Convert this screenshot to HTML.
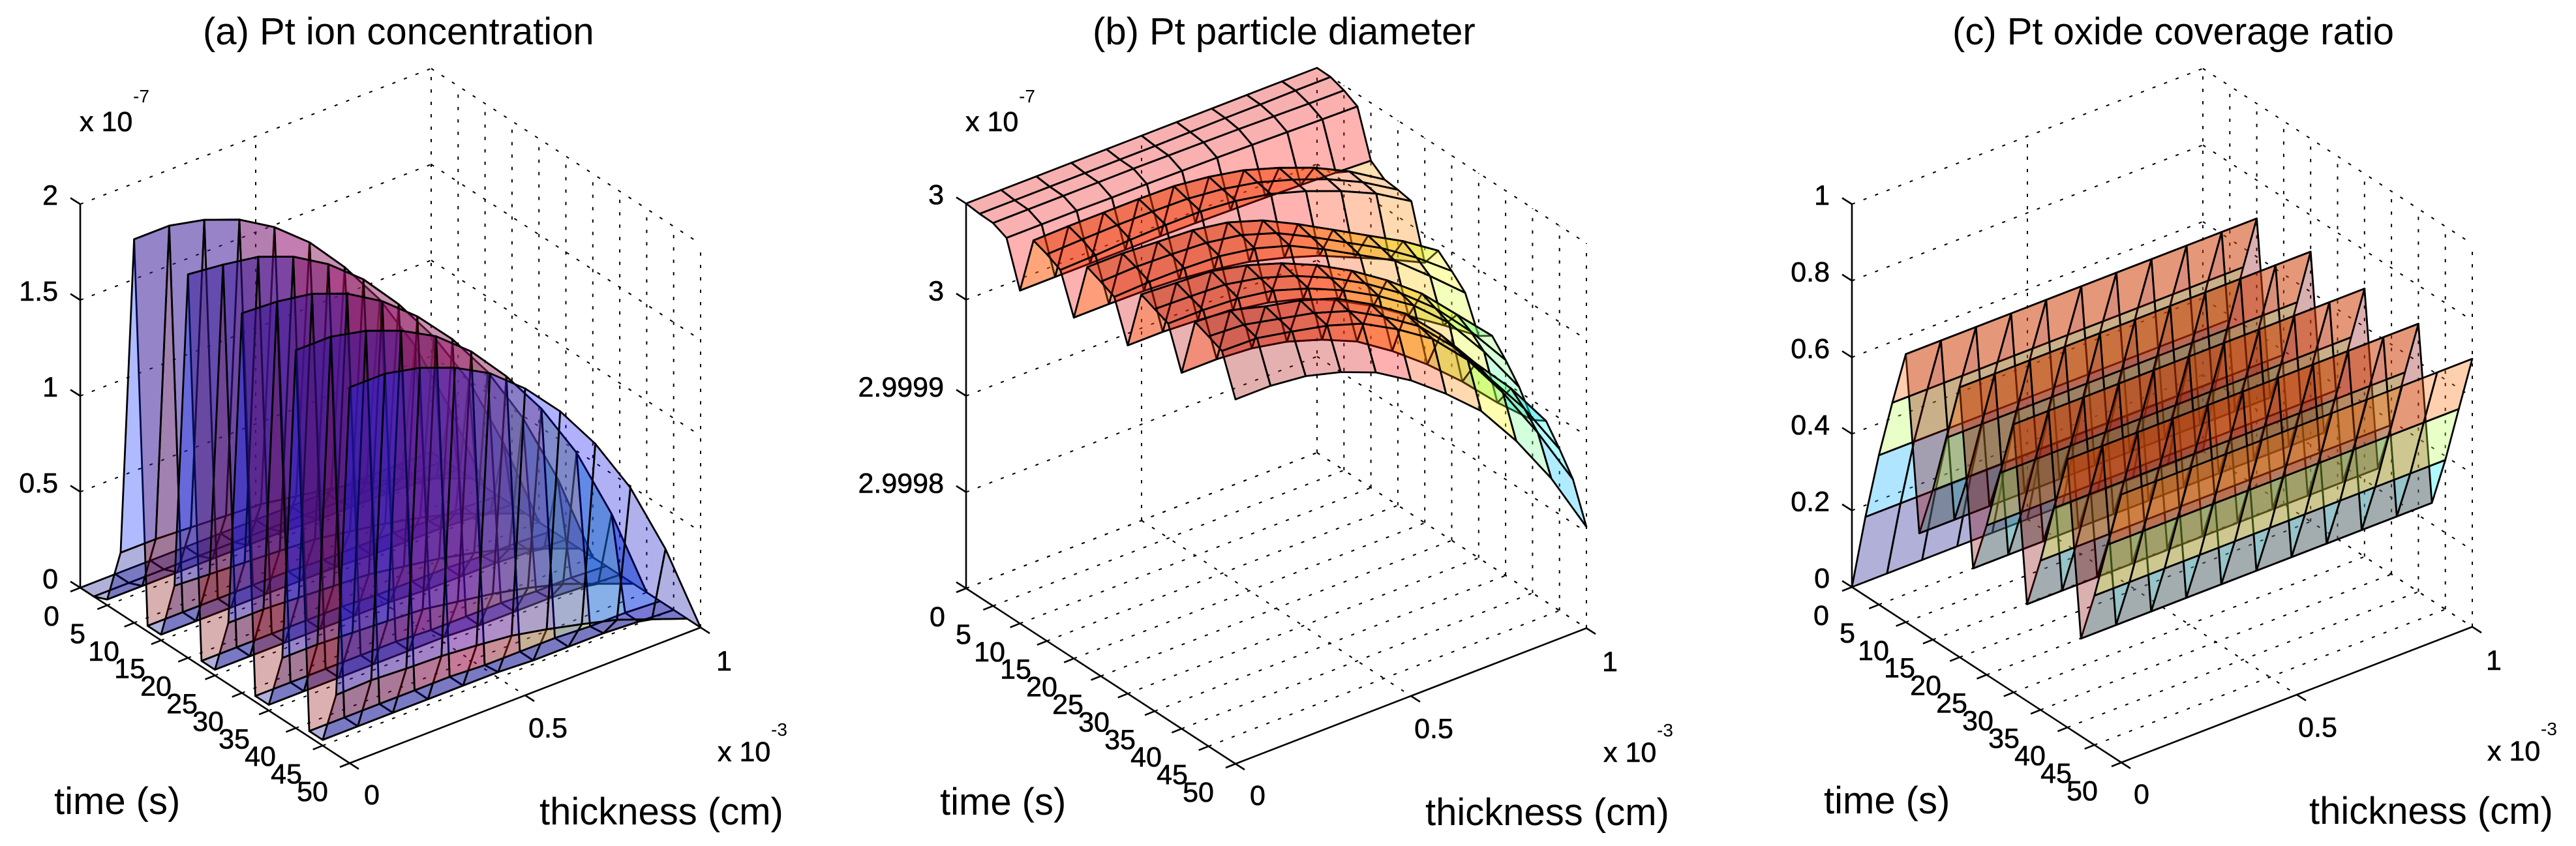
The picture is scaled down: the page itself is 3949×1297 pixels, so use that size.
<!DOCTYPE html>
<html>
<head>
<meta charset="utf-8">
<title>Pt dissolution surfaces</title>
<style>
html,body{margin:0;padding:0;background:#fff}
svg{display:block}
text{font-family:"Liberation Sans",Arial,sans-serif;fill:#000}
.title,.axl{font-size:58px}
.tick{font-size:43px;stroke:#000;stroke-width:.6px}
.exp{font-size:28px}
</style>
</head>
<body>
<svg id="chart" xmlns="http://www.w3.org/2000/svg" width="3949" height="1297" viewBox="0 0 3949 1297">
<rect width="3949" height="1297" fill="#fff"/>
<text class="title" x="311" y="68">(a) Pt ion concentration</text>
<text class="title" x="1675" y="68">(b) Pt particle diameter</text>
<text class="title" x="2993" y="68">(c) Pt oxide coverage ratio</text>
<g id="panel-a"></g>
<g id="panel-b"></g>
<g id="panel-c"></g>
</svg>
<script>
// shared axes data
const timeGrid = [0,2.5,5,7.5,10,12.5,15,17.5,20,22.5,25,27.5,30,32.5,35,37.5,40,42.5,45,47.5,50];
const thicknessGrid = [0,0.1,0.2,0.3,0.4,0.5,0.6,0.7,0.8,0.9,1];
const timeTicks = [0,5,10,15,20,25,30,35,40,45,50];
const thicknessTicks = [0,0.5,1];

// (a) Pt ion concentration, x 10^-7, one row per time in timeGrid
const zTicksA = [0,0.5,1,1.5,2];
const ionConcentration = [
[0,0,0,0,0,0,0,0,0,0,0],
[0,0,0,0,0,0,0,0,0,0,0],
[.03,.03,.03,.03,.03,.03,.02,.02,.02,.01,0],
[.32,.32,.31,.30,.29,.26,.23,.19,.14,.07,0],
[2.00,2.00,1.96,1.89,1.78,1.63,1.43,1.19,.88,.48,0],
[.03,.03,.03,.03,.03,.02,.02,.02,.01,.01,0],
[.03,.03,.03,.03,.03,.03,.02,.02,.02,.01,0],
[.33,.32,.31,.30,.29,.26,.23,.19,.14,.07,0],
[2.00,1.98,1.95,1.88,1.77,1.62,1.42,1.18,.88,.48,0],
[.03,.03,.03,.03,.03,.02,.02,.02,.01,.01,0],
[.03,.03,.03,.03,.03,.03,.02,.02,.02,.01,0],
[.32,.32,.31,.30,.29,.26,.23,.19,.14,.07,0],
[1.98,1.97,1.94,1.87,1.76,1.61,1.42,1.18,.87,.48,0],
[.03,.03,.03,.03,.03,.02,.02,.02,.01,.01,0],
[.03,.03,.03,.03,.03,.03,.02,.02,.02,.01,0],
[.32,.32,.31,.30,.29,.26,.23,.19,.14,.07,0],
[1.97,1.97,1.93,1.86,1.76,1.61,1.41,1.17,.87,.48,0],
[.03,.03,.03,.03,.03,.02,.02,.02,.01,.01,0],
[.03,.03,.03,.03,.03,.03,.02,.02,.02,.01,0],
[.31,.316,.306,.30,.285,.265,.228,.184,.136,.068,0],
[1.96,1.96,1.92,1.85,1.75,1.60,1.41,1.17,.87,.48,0]
];

// (b) Pt particle diameter, position on the z axis between its bottom (0) and its top (1)
const zTicksB = [0,0.25,0.5,0.75,1];
const zLabelsB = ["","2.9998","2.9999","3","3"];
const particleDiameter = [
[1,1,1,1,1,1,1,1,1,1,1],
[.996,.996,.996,.996,.996,.996,.997,.998,.998,.999,.999],
[.995,.995,.995,.995,.995,.994,.993,.992,.99,.988,.987],
[.979,.979,.979,.978,.978,.977,.976,.974,.972,.97,.968],
[.865,.865,.865,.865,.865,.864,.862,.86,.857,.854,.85],
[1.018,1.02,1.02,1.02,1.018,1.007,.989,.96,.925,.88,.824],
[1.005,1.008,1.01,1.01,1.008,.998,.98,.952,.918,.875,.82],
[.987,.99,.995,.998,.998,.99,.973,.945,.91,.868,.813],
[.886,.886,.885,.88,.87,.855,.83,.80,.76,.72,.676],
[1.04,1.04,1.035,1.03,1.015,.985,.94,.89,.84,.79,.73],
[1.025,1.028,1.025,1.02,1.005,.975,.93,.88,.83,.77,.70],
[1.008,1.012,1.012,1.008,.993,.965,.92,.87,.82,.745,.666],
[.905,.905,.90,.89,.875,.85,.81,.76,.70,.64,.577],
[1.06,1.055,1.05,1.03,1.0,.96,.91,.85,.78,.69,.60],
[1.045,1.042,1.038,1.02,.99,.95,.90,.84,.765,.67,.56],
[1.03,1.03,1.025,1.01,.98,.94,.89,.83,.75,.64,.513],
[.925,.925,.918,.90,.87,.83,.77,.70,.62,.53,.45],
[1.08,1.075,1.05,1.03,1.0,.95,.89,.80,.69,.59,.47],
[1.065,1.06,1.04,1.02,.99,.94,.88,.79,.675,.56,.42],
[1.05,1.048,1.03,1.01,.98,.93,.87,.78,.66,.52,.364],
[.947,.947,.937,.912,.876,.82,.75,.67,.557,.424,.263]
];

// (c) Pt oxide coverage ratio: value per time in timeGrid, scaled by a thickness profile
const zTicksC = [0,0.2,0.4,0.6,0.8,1];
const oxideByTime = [0,.206,.39,.55,.70,.255,.39,.55,.705,.255,.39,.55,.70,.253,.39,.55,.70,.255,.39,.546,.70];
const oxideByThickness = [1,1,1,1,1,1,1,1,1,1,1];
const oxideCoverage = oxideByTime.map(function(v){return oxideByThickness.map(function(p){return v*p;});});

const NS = "http://www.w3.org/2000/svg";
const tMax = 50, xMax = 1;
const tVec = [413,269], xVec = [538,-208];

function jet(f){
  f = Math.max(0,Math.min(1,f));
  function c(v){return Math.round(255*Math.max(0,Math.min(1,v)));}
  const r = Math.min(4*f-1.5, -4*f+4.5);
  const g = Math.min(4*f-0.5, -4*f+3.5);
  const b = Math.min(4*f+0.5, -4*f+2.5);
  return "rgb("+c(r)+","+c(g)+","+c(b)+")";
}

function makePanel(id, ox, oy, zH, zMin, zMax, zTicks, zLabels, rows, labelDx, expZ){
  const root = document.getElementById(id);
  function P(t,x,z){
    const zn = (z-zMin)/(zMax-zMin);
    return [ox + t/tMax*tVec[0] + x/xMax*xVec[0], oy + t/tMax*tVec[1] + x/xMax*xVec[1] - zn*zH];
  }
  function depth(t,x,z){
    return 0.686*t/tMax - 0.528*x/xMax + 0.5*(z-zMin)/(zMax-zMin);
  }
  function line(a,b,name,dotted){
    const el = document.createElementNS(NS,"line");
    el.setAttribute("x1",a[0].toFixed(1));
    el.setAttribute("y1",a[1].toFixed(1));
    el.setAttribute("x2",b[0].toFixed(1));
    el.setAttribute("y2",b[1].toFixed(1));
    el.setAttribute("stroke","#000");
    el.setAttribute("stroke-width",dotted?"2":"2.6");
    if(dotted) el.setAttribute("stroke-dasharray","5 14");
    
    
    root.appendChild(el);
  }
  function label(str,x,y,cls,anchor,name){
    const el = document.createElementNS(NS,"text");
    el.setAttribute("x",x.toFixed(1));
    el.setAttribute("y",y.toFixed(1));
    el.setAttribute("class",cls);
    el.setAttribute("text-anchor",anchor);
    el.textContent = str;
    
    
    root.appendChild(el);
  }
  // grid
  timeTicks.forEach(function(t){
    line(P(t,0,zMin),P(t,xMax,zMin),"floor-grid-time",true);
    line(P(t,xMax,zMin),P(t,xMax,zMax),"wall-grid-time",true);
  });
  thicknessTicks.forEach(function(x){
    line(P(0,x,zMin),P(tMax,x,zMin),"floor-grid-thickness",true);
    line(P(0,x,zMin),P(0,x,zMax),"wall-grid-thickness",true);
  });
  zTicks.forEach(function(z){
    line(P(0,0,z),P(0,xMax,z),"wall-grid-z",true);
    line(P(0,xMax,z),P(tMax,xMax,z),"wall-grid-z",true);
  });
  // axes
  line(P(0,0,zMin),P(0,0,zMax),"z-axis",false);
  line(P(0,0,zMin),P(tMax,0,zMin),"time-axis",false);
  line(P(tMax,0,zMin),P(tMax,xMax,zMin),"thickness-axis",false);
  // ticks
  zTicks.forEach(function(z){
    const p = P(0,0,z);
    line(p,[p[0]-15,p[1]-9.5],"z-tick",false);
  });
  timeTicks.forEach(function(t){
    const p = P(t,0,zMin);
    line(p,[p[0]-15,p[1]+6],"time-tick",false);
  });
  thicknessTicks.forEach(function(x){
    const p = P(tMax,x,zMin);
    line(p,[p[0]+14,p[1]+9],"thickness-tick",false);
  });
  // surface: faces are sorted back to front by the depth of their centre
  let cMin = Infinity, cMax = -Infinity;
  rows.forEach(function(r){r.forEach(function(v){cMin=Math.min(cMin,v);cMax=Math.max(cMax,v);});});
  const surf = document.createElementNS(NS,"g");
  
  
  root.appendChild(surf);
  const faces = [];
  for(let i=0;i<timeGrid.length-1;i++){
    for(let j=0;j<thicknessGrid.length-1;j++){
      const corners = [[i,j],[i,j+1],[i+1,j+1],[i+1,j]];
      let d = 0;
      const pts = corners.map(function(c){
        d += depth(timeGrid[c[0]],thicknessGrid[c[1]],rows[c[0]][c[1]])/4;
        return P(timeGrid[c[0]],thicknessGrid[c[1]],rows[c[0]][c[1]]);
      });
      faces.push({pts:pts,d:d,v:rows[i][j]});
    }
  }
  faces.sort(function(a,b){return a.d-b.d;});
  faces.forEach(function(f){
    const q = document.createElementNS(NS,"polygon");
    q.setAttribute("points",f.pts.map(function(p){return p[0].toFixed(1)+","+p[1].toFixed(1);}).join(" "));
    q.setAttribute("fill",jet((f.v-cMin)/(cMax-cMin)));
    q.setAttribute("fill-opacity","0.31");
    q.setAttribute("stroke","#000");
    q.setAttribute("stroke-width","2.8");
    q.setAttribute("stroke-linejoin","round");
    
    
    surf.appendChild(q);
  });
  // z labels
  zTicks.forEach(function(z,k){
    const p = P(0,0,z);
    const s = zLabels ? zLabels[k] : String(z);
    if(s) label(s,p[0]-34,p[1]+1,"tick","end","z-tick-label");
  });
  // time labels
  timeTicks.forEach(function(t){
    label(String(t),ox-44+labelDx+t/tMax*400,oy+58+t/tMax*269,"tick","middle","time-tick-label");
  });
  // thickness labels
  thicknessTicks.forEach(function(x){
    label(String(x),ox+447+labelDx+x/xMax*540,oy+332-x/xMax*205,"tick","middle","thickness-tick-label");
  });
  if(expZ){
    label("x 10",ox-1,201,"tick","start","z-scale-factor");
    label("-7",ox+81,157,"exp","start","z-scale-exponent");
  }
  label("x 10",ox+977+labelDx,oy+266,"tick","start","thickness-scale-factor");
  label("-3",ox+1059+labelDx,oy+227,"exp","start","thickness-scale-exponent");
  label("time (s)",ox-40+labelDx,oy+347,"axl","start","time-axis-title");
  label("thickness (cm)",ox+704+labelDx,oy+363,"axl","start","thickness-axis-title");
}

makePanel("panel-a",123,901,588,0,2,zTicksA,null,ionConcentration,0,true);
makePanel("panel-b",1481,902,590,0,1,zTicksB,zLabelsB,particleDiameter,0,true);
makePanel("panel-c",2839,900,587,0,1,zTicksC,null,oxideCoverage,-3,false);
</script>
</body>
</html>
